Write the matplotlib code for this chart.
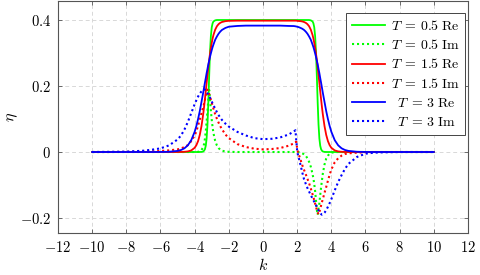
import matplotlib
matplotlib.use("Agg")
import matplotlib.pyplot as plt

plt.rcParams['mathtext.fontset'] = 'cm'
plt.rcParams['font.family'] = ['DejaVu Serif']

k = [-10, -9, -8, -7, -6.5, -6, -5.5, -5,
     -4.8, -4.6, -4.4, -4.2, -4.0,
     -3.9, -3.8, -3.7, -3.6, -3.5, -3.45, -3.4, -3.35, -3.3, -3.25, -3.2, -3.15, -3.1, -3.05, -3.0, -2.95, -2.9,
     -2.8, -2.7, -2.6, -2.5, -2.4, -2.2, -2.0, -1.5, -1.0, -0.5, 0,
     0.5, 1.0, 1.5, 1.8, 1.9, 1.95, 2.0, 2.05, 2.1, 2.2, 2.3, 2.4, 2.5, 2.6, 2.7, 2.8,
     2.9, 2.95, 3.0, 3.05, 3.1, 3.15, 3.2, 3.25, 3.3, 3.35, 3.4, 3.45, 3.5, 3.6, 3.7, 3.8, 3.9,
     4.0, 4.2, 4.4, 4.6, 4.8,
     5, 5.5, 6, 6.5, 7, 8, 9, 10]

re_T05 = [0, 0, 0, 0, 0, 0, 0, 0,
          0, 0, 0, 0, 0,
          0, 0, 0.0001, 0.0003, 0.0016, 0.004, 0.0085, 0.019, 0.041, 0.0835, 0.151, 0.233, 0.305, 0.352, 0.378, 0.390, 0.3956,
          0.399, 0.4, 0.4, 0.4, 0.4, 0.4, 0.4, 0.4, 0.4, 0.4, 0.4,
          0.4, 0.4, 0.4, 0.4, 0.4, 0.4, 0.4, 0.4, 0.4, 0.4, 0.4, 0.4, 0.4, 0.4, 0.4, 0.399,
          0.3956, 0.390, 0.378, 0.352, 0.305, 0.233, 0.151, 0.0835, 0.041, 0.019, 0.0085, 0.004, 0.0016, 0.0003, 0.0001, 0, 0,
          0, 0, 0, 0, 0,
          0, 0, 0, 0, 0, 0, 0, 0]

im_T05 = [0, 0, 0, 0, 0, 0, 0, 0,
          0, 0, 0, 0, 0,
          0, 0.0005, 0.002, 0.006, 0.015, 0.024, 0.040, 0.063, 0.092, 0.125, 0.160, 0.188, 0.160, 0.125, 0.097, 0.075, 0.057,
          0.034, 0.020, 0.012, 0.007, 0.004, 0.0015, 0.0005, 0, 0, 0, 0,
          0, 0, 0, 0, 0, 0, 0, 0, -0.0005, -0.002, -0.004, -0.007, -0.011, -0.019, -0.030, -0.045,
          -0.067, -0.080, -0.097, -0.118, -0.145, -0.175, -0.190, -0.172, -0.155, -0.130, -0.107, -0.086, -0.066, -0.038, -0.020, -0.011, -0.005,
          -0.002, -0.0005, 0, 0, 0,
          0, 0, 0, 0, 0, 0, 0, 0]

re_T15 = [0, 0, 0, 0, 0, 0, 0, 0.0001,
          0.0002, 0.0007, 0.0018, 0.0048, 0.0128,
          0.0207, 0.0331, 0.0518, 0.0787, 0.115, 0.1365, 0.160, 0.184, 0.209, 0.2334, 0.257, 0.279, 0.2986, 0.316, 0.331, 0.344, 0.3547,
          0.3705, 0.381, 0.3875, 0.3915, 0.394, 0.3965, 0.3975, 0.398, 0.398, 0.398, 0.398,
          0.398, 0.398, 0.398, 0.398, 0.398, 0.398, 0.3975, 0.397, 0.397, 0.3965, 0.3956, 0.394, 0.3915, 0.3875, 0.381, 0.3705,
          0.3547, 0.344, 0.331, 0.316, 0.2986, 0.279, 0.257, 0.2334, 0.209, 0.184, 0.160, 0.1365, 0.115, 0.0787, 0.0518, 0.0331, 0.0207,
          0.0128, 0.0048, 0.0018, 0.0007, 0.0002,
          0.0001, 0, 0, 0, 0, 0, 0, 0]

im_T15 = [0, 0, 0.0005, 0.001, 0.002, 0.003, 0.005, 0.008,
          0.011, 0.015, 0.021, 0.033, 0.050,
          0.063, 0.080, 0.099, 0.118, 0.136, 0.147, 0.158, 0.170, 0.181, 0.189, 0.184, 0.176, 0.167, 0.158, 0.149, 0.140, 0.131,
          0.115, 0.101, 0.089, 0.078, 0.069, 0.053, 0.042, 0.024, 0.015, 0.010, 0.008,
          0.009, 0.012, 0.019, 0.026, 0.030, 0.031, 0.010, -0.001, -0.008, -0.024, -0.040, -0.054, -0.067, -0.081, -0.095, -0.111,
          -0.128, -0.137, -0.146, -0.156, -0.166, -0.175, -0.183, -0.189, -0.182, -0.172, -0.162, -0.152, -0.143, -0.124, -0.106, -0.087, -0.069,
          -0.053, -0.031, -0.019, -0.011, -0.006,
          -0.004, -0.002, -0.001, 0, 0, 0, 0, 0]

re_T3 = [0, 0, 0, 0, 0, 0.0002, 0.0007, 0.0034,
         0.0061, 0.0112, 0.0203, 0.0358, 0.0614,
         0.079, 0.100, 0.124, 0.152, 0.180, 0.195, 0.210, 0.224, 0.239, 0.252, 0.266, 0.277, 0.289, 0.299, 0.309, 0.318, 0.3257,
         0.340, 0.350, 0.3585, 0.365, 0.370, 0.376, 0.3797, 0.382, 0.383, 0.383, 0.383,
         0.383, 0.383, 0.382, 0.3817, 0.3809, 0.3803, 0.3797, 0.379, 0.3782, 0.376, 0.3735, 0.370, 0.365, 0.3585, 0.350, 0.340,
         0.3257, 0.318, 0.309, 0.299, 0.289, 0.277, 0.266, 0.252, 0.239, 0.224, 0.210, 0.195, 0.180, 0.152, 0.124, 0.100, 0.079,
         0.0614, 0.0358, 0.0203, 0.0112, 0.0061,
         0.0034, 0.0007, 0.0002, 0, 0, 0, 0, 0]

im_T3 = [0, 0.0005, 0.001, 0.004, 0.007, 0.011, 0.020, 0.038,
         0.050, 0.068, 0.091, 0.118, 0.145,
         0.157, 0.168, 0.177, 0.184, 0.189, 0.190, 0.189, 0.186, 0.182, 0.178, 0.174, 0.169, 0.164, 0.158, 0.153, 0.147, 0.142,
         0.131, 0.121, 0.112, 0.104, 0.097, 0.086, 0.077, 0.061, 0.050, 0.042, 0.039,
         0.040, 0.044, 0.053, 0.062, 0.066, 0.032, 0.004, -0.010, -0.019, -0.040, -0.062, -0.082, -0.096, -0.109, -0.120, -0.131,
         -0.141, -0.146, -0.151, -0.156, -0.161, -0.166, -0.172, -0.177, -0.181, -0.185, -0.188, -0.190, -0.189, -0.184, -0.176, -0.166, -0.155,
         -0.143, -0.116, -0.091, -0.070, -0.051,
         -0.036, -0.015, -0.005, -0.002, -0.001, 0, 0, 0]

labels = [r'$T\:=\:0.5\;\mathrm{Re}$', r'$T\:=\:0.5\;\mathrm{Im}$',
          r'$T\:=\:1.5\;\mathrm{Re}$', r'$T\:=\:1.5\;\mathrm{Im}$',
          r'$\;\;T\:=\:3\;\mathrm{Re}$', r'$\;\;T\:=\:3\;\mathrm{Im}$']
xticks = [-12, -10, -8, -6, -4, -2, 0, 2, 4, 6, 8, 10, 12]
yticks = [-0.2, 0, 0.2, 0.4]
ytick_labels = [r'$-0.2$', r'$0$', r'$0.2$', r'$0.4$']

series = [(re_T05, '#00ff00', 'solid'), (im_T05, '#00ff00', 'dotted'),
          (re_T15, '#ff0000', 'solid'), (im_T15, '#ff0000', 'dotted'),
          (re_T3, '#0000ff', 'solid'), (im_T3, '#0000ff', 'dotted')]

fig = plt.figure(figsize=(4.81, 2.75), dpi=100)
ax = fig.add_axes([58/481, 1 - 232.7/275, 410/481, 231.7/275])

for (vals, col, st), lab in zip(series, labels):
    n = min(len(k), len(vals))
    if st == 'solid':
        ax.plot(k[:n], vals[:n], color=col, lw=1.3, label=lab)
    else:
        ax.plot(k[:n], vals[:n], color=col, lw=1.5, linestyle=(0, (1, 1.4)), label=lab)

ax.set_xlim(-12, 12)
ax.set_ylim(-0.2445, 0.4576)
ax.set_xticks(xticks)
ax.set_xticklabels([r'$%d$' % t if t >= 0 else r'$-%d$' % (-t) for t in xticks])
ax.set_yticks(yticks)
ax.set_yticklabels(ytick_labels)
ax.tick_params(direction='in', length=3, width=0.6, colors='#555555', labelcolor='black',
               labelsize=10.5, top=True, right=True, pad=5)
ax.grid(True, color='#d8d8d8', linestyle=(0, (4, 3)), linewidth=0.7)
ax.set_axisbelow(True)
for sp in ax.spines.values():
    sp.set_color('#555555')
    sp.set_linewidth(0.8)

ax.set_xlabel(r'$k$', fontsize=11.5, labelpad=2)
ax.set_ylabel(r'$\eta$', fontsize=11.5)
ax.yaxis.set_label_coords(-0.092, 0.5)

leg = ax.legend(loc='upper right', bbox_to_anchor=(0.9927, 0.947), fontsize=10,
                frameon=True, fancybox=False, edgecolor='#444444', framealpha=1,
                handlelength=2.4, handletextpad=0.4, labelspacing=0.38,
                borderpad=0.4, borderaxespad=0)
leg.get_frame().set_linewidth(0.7)

fig.savefig('out.png', dpi=100)
